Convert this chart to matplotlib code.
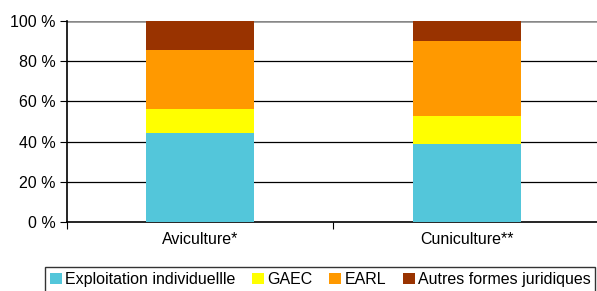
import matplotlib
matplotlib.use('Agg')
from matplotlib import pyplot as plt
import numpy as np

plt.rcParams['font.family'] = ['Liberation Sans', 'DejaVu Sans']

categories = ['Aviculture*', 'Cuniculture**']
series = ['Exploitation individuellle', 'GAEC', 'EARL', 'Autres formes juridiques']
indiv = [44.3, 38.8]
gaec = [11.9, 14.1]
earl = [29.2, 37.3]
autres = [14.6, 9.8]
colors = ['#53c6da', '#ffff00', '#ff9900', '#993300']
yticks = [0, 20, 40, 60, 80, 100]

fig = plt.figure(figsize=(5.97, 2.91), dpi=100)
ax = fig.add_axes([0.112, 0.237, 0.893, 0.691])

x = np.arange(len(categories))
bottom = np.zeros(len(categories))
for vals, name, c in zip([indiv, gaec, earl, autres], series, colors):
    ax.bar(x, vals, width=0.405, bottom=bottom, color=c, label=name, zorder=3)
    bottom += np.array(vals)

ax.set_xlim(-0.5, 1.5)
ax.set_ylim(0, 100)
ax.set_yticks(yticks)
ax.set_yticklabels(['%d %%' % v for v in yticks], fontsize=11.5)
for v in yticks[1:-1]:
    ax.axhline(v, color='black', lw=0.9, zorder=1)
ax.axhline(100, color='#888888', lw=1.8, zorder=1)

ax.set_xticks([-0.5, 0.5, 1.5])
ax.set_xticklabels([])
ax.set_xticks(x, minor=True)
ax.set_xticklabels(categories, minor=True, fontsize=11.5)
ax.tick_params(axis='x', which='minor', length=0, pad=7)
ax.tick_params(axis='x', which='major', length=5, direction='out', color='black')
ax.tick_params(axis='y', length=5, direction='out', pad=3)

for s in ['top', 'right']:
    ax.spines[s].set_visible(False)
ax.spines['left'].set_linewidth(1.2)
ax.spines['bottom'].set_linewidth(1.2)

leg = fig.legend(loc='lower left', bbox_to_anchor=(0.075, -0.003), ncol=4,
                 fontsize=11.5, frameon=True, fancybox=False, handlelength=0.75,
                 handleheight=0.6, handletextpad=0.2, columnspacing=1.05,
                 borderpad=0.3, borderaxespad=0)
leg.get_frame().set_edgecolor('black')
leg.get_frame().set_linewidth(1.0)

fig.savefig('out.png', dpi=100)
